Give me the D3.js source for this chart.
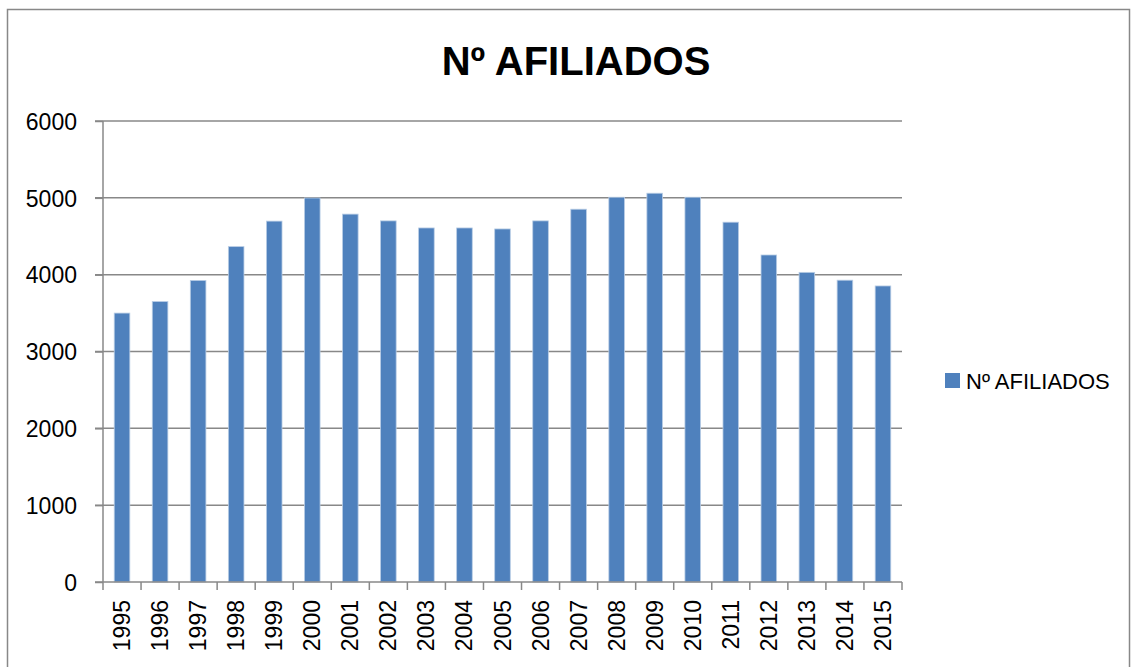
<!DOCTYPE html>
<html>
<head>
<meta charset="utf-8">
<script src="https://cdn.jsdelivr.net/npm/d3@7"></script>
<style>
  body { margin: 0; background: #fff; }
  svg { display: block; }
  text { font-family: "Liberation Sans", Arial, sans-serif; fill: #000; }
</style>
</head>
<body>
<svg id="chart" width="1131" height="667"></svg>
<script>
const years = ["1995","1996","1997","1998","1999","2000","2001","2002","2003","2004","2005","2006","2007","2008","2009","2010","2011","2012","2013","2014","2015"];
const afiliados = [3500, 3650, 3925, 4365, 4697, 4998, 4788, 4700, 4608, 4608, 4595, 4700, 4852, 5008, 5060, 5008, 4683, 4256, 4030, 3928, 3853];
const yTicks = [0, 1000, 2000, 3000, 4000, 5000, 6000];
const title = "Nº AFILIADOS";
const seriesName = "Nº AFILIADOS";

(function () {
const svg = d3.select("#chart");
const grey = "#888888";
const barColor = "#4F81BD";

// outer chart border
svg.append("rect")
  .attr("x", 7.5).attr("y", 9.5)
  .attr("width", 1122).attr("height", 700)
  .attr("fill", "none").attr("stroke", grey).attr("stroke-width", 1.5);

const pLeft = 103, pRight = 902, pTop = 121, pBottom = 582;

const x = d3.scaleBand().domain(years).range([pLeft, pRight]).paddingInner(0.59).paddingOuter(0.295);
const xb = d3.scaleBand().domain(years).range([pLeft, pRight]);
const y = d3.scaleLinear().domain([0, 6000]).range([pBottom, pTop]);

// gridlines
svg.append("g").selectAll("line").data(yTicks.filter(d => d > 0)).join("line")
  .attr("x1", pLeft - 8).attr("x2", pRight)
  .attr("y1", d => y(d)).attr("y2", d => y(d))
  .attr("stroke", grey).attr("stroke-width", 1.5);

// bars
svg.append("g").selectAll("rect").data(afiliados).join("rect")
  .attr("x", (d, i) => x(years[i]))
  .attr("width", x.bandwidth())
  .attr("y", d => y(d))
  .attr("height", d => y(0) - y(d))
  .attr("fill", barColor)
  .attr("stroke", "#B9CDE5").attr("stroke-width", 0.8);

// y axis
const yAxis = d3.axisLeft(y).tickValues(yTicks).tickSize(8).tickPadding(18).tickFormat(d3.format("d"));
const gy = svg.append("g").attr("transform", `translate(${pLeft},0)`).call(yAxis);
gy.select(".domain").attr("stroke", grey).attr("stroke-width", 1.5).attr("d", `M0,${pTop}V${pBottom}`);
gy.selectAll(".tick line").attr("stroke", grey).attr("stroke-width", 1.5);
gy.selectAll(".tick text").style("font-size", "23px").attr("dy", "0.36em");

// x axis
const gx = svg.append("g").attr("transform", `translate(0,${pBottom})`);
gx.append("line").attr("x1", pLeft - 8).attr("x2", pRight).attr("y1", 0).attr("y2", 0)
  .attr("stroke", grey).attr("stroke-width", 1.5);
const boundaries = years.map(d => xb(d)).concat([pRight]);
gx.selectAll("line.tk").data(boundaries).join("line").attr("class", "tk")
  .attr("x1", d => d).attr("x2", d => d).attr("y1", 0).attr("y2", 8)
  .attr("stroke", grey).attr("stroke-width", 1.5);
gx.selectAll("text").data(years).join("text")
  .attr("transform", d => `translate(${xb(d) + xb.bandwidth() / 2 + 8},${18}) rotate(-90)`)
  .attr("text-anchor", "end")
  .style("font-size", "23px")
  .text(d => d);

// title
svg.append("text").attr("x", 576).attr("y", 75).attr("text-anchor", "middle")
  .style("font-size", "40px").style("font-weight", "bold").text(title);

// legend
svg.append("rect").attr("x", 945).attr("y", 373).attr("width", 15).attr("height", 15).attr("fill", barColor);
svg.append("text").attr("x", 966).attr("y", 388.5).style("font-size", "22px").text(seriesName);
})();
</script>
</body>
</html>
